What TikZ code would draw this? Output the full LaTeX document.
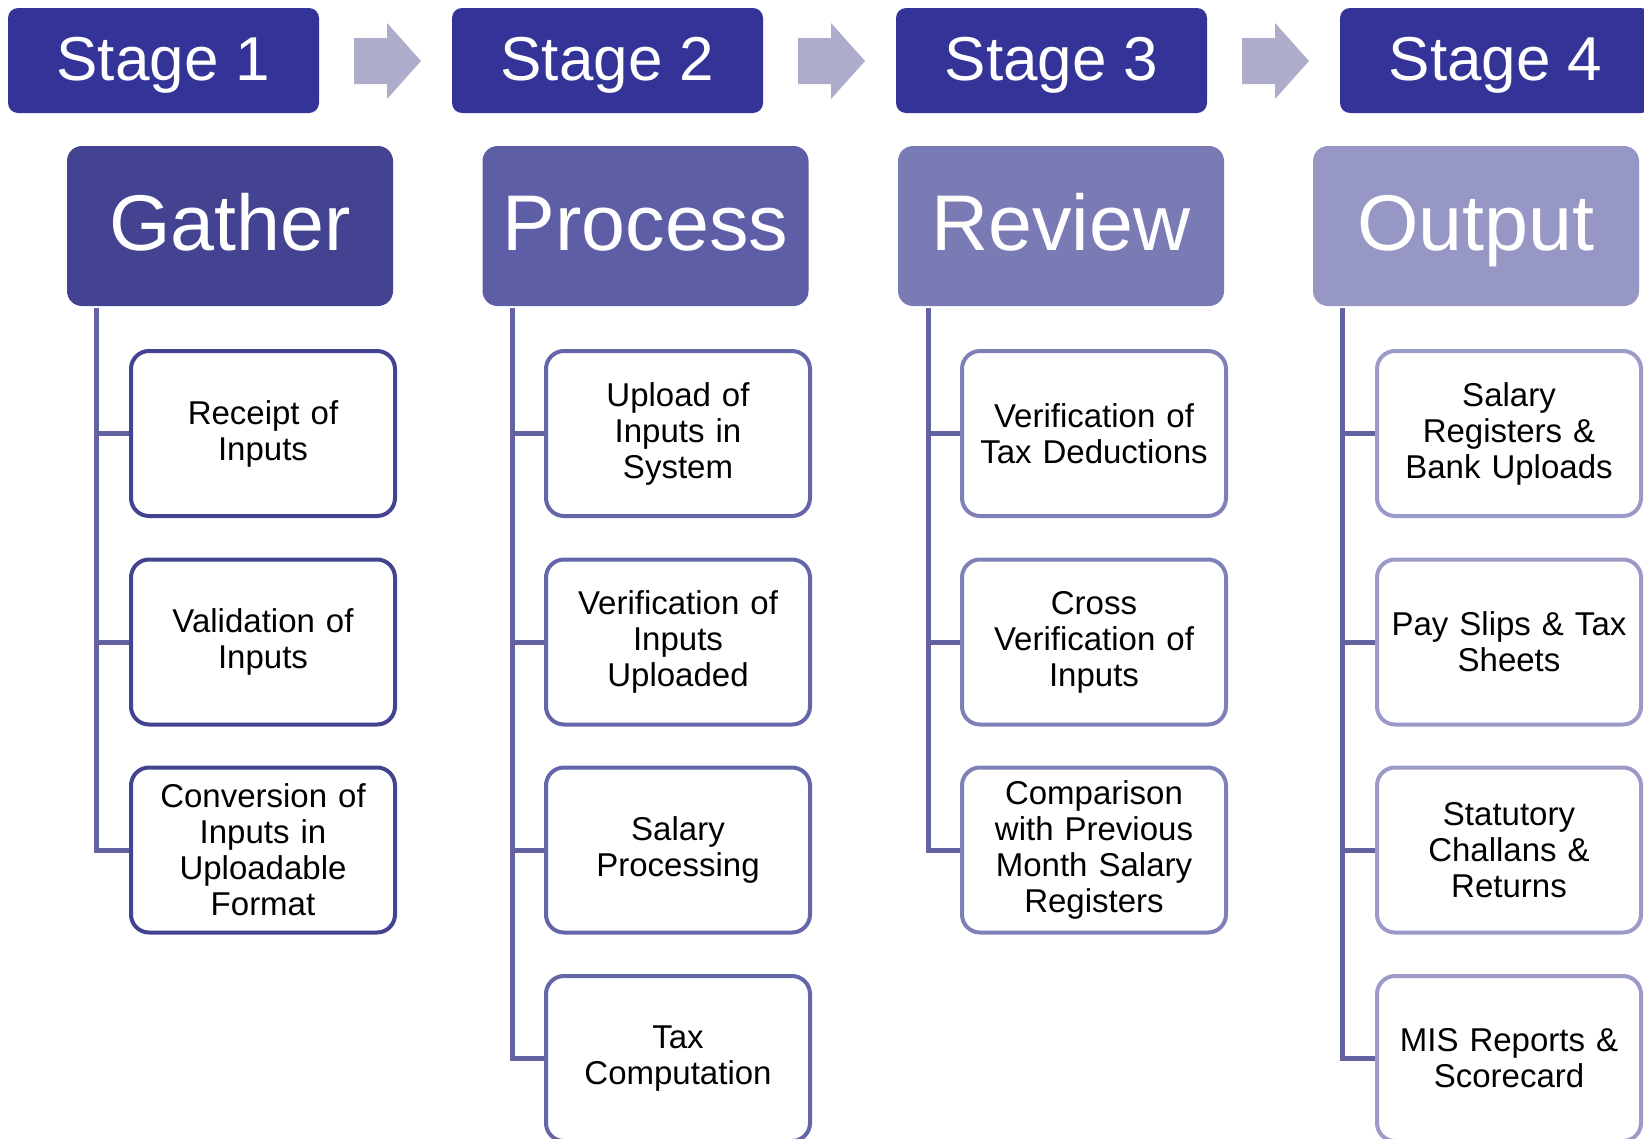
\documentclass[tikz,border=0pt]{standalone}
\usepackage{fontspec}
\setmainfont{Liberation Sans}
\usetikzlibrary{positioning}

\definecolor{hdrblue}{HTML}{343397}
\definecolor{gathercol}{HTML}{434392}
\definecolor{processcol}{HTML}{5E5EA6}
\definecolor{reviewcol}{HTML}{7A7AB5}
\definecolor{outputcol}{HTML}{9797C5}
\definecolor{arrowcol}{HTML}{ADADCB}
\definecolor{spinecol}{HTML}{6363A1}
\definecolor{pbordercol}{HTML}{6565A9}
\definecolor{rbordercol}{HTML}{8080B9}
\definecolor{obordercol}{HTML}{9B9BCA}

\tikzset{
  stagehdr/.style={fill=hdrblue, rounded corners=10pt, minimum width=311pt, minimum height=105pt,
    text=white, text height=44pt, text depth=5pt, font=\fontsize{62}{70}\selectfont},
  phasebox/.style={rounded corners=15pt, minimum width=326pt, minimum height=160pt,
    text=white, text height=57pt, text depth=8pt, font=\fontsize{79}{90}\selectfont},
  taskbox/.style={draw, line width=4pt, fill=white, rounded corners=18pt, minimum width=264pt,
    minimum height=165pt, text width=250pt, align=center, font=\fontsize{33}{36}\selectfont},
  spine/.style={draw=spinecol, line width=5pt},
}

\begin{document}
\begin{tikzpicture}[x=1pt, y=-1pt]
    \useasboundingbox (0,0) rectangle (1644,1138);
    \clip (0,0) rectangle (1644,1138);

    % stage headers
    \node[stagehdr] (s1) at (163.5,60.5) {Stage 1};
    \node[stagehdr] (s2) at (607.5,60.5) {Stage 2};
    \node[stagehdr] (s3) at (1051.5,60.5) {Stage 3};
    \node[stagehdr] (s4) at (1495.5,60.5) {Stage 4};
    \foreach \dx in {0,444,888}
        \fill[arrowcol, shift={(\dx,0)}] (354,38) -- (387,38) -- (387,23) -- (421,61)
            -- (387,99) -- (387,84) -- (354,84) -- cycle;

    % phases
    \node[phasebox, fill=gathercol] (gather) at (230,226) {Gather};
    \node[phasebox, fill=processcol] (process) at (645.5,226) {Process};
    \node[phasebox, fill=reviewcol] (review) at (1061,226) {Review};
    \node[phasebox, fill=outputcol] (output) at (1476,226) {Output};

    % Gather tasks
    \node[taskbox, draw=gathercol] (g1) at (263,433.5) {Receipt of\\Inputs};
    \node[taskbox, draw=gathercol] (g2) at (263,642) {Validation of\\Inputs};
    \node[taskbox, draw=gathercol] (g3) at (263,850) {Conversion of\\Inputs in\\Uploadable\\Format};

    % Process tasks
    \node[taskbox, draw=pbordercol] (p1) at (678,433.5) {Upload of\\Inputs in\\System};
    \node[taskbox, draw=pbordercol] (p2) at (678,642) {Verification of\\Inputs\\Uploaded};
    \node[taskbox, draw=pbordercol] (p3) at (678,850) {Salary\\Processing};
    \node[taskbox, draw=pbordercol] (p4) at (678,1058.5) {Tax\\Computation};

    % Review tasks
    \node[taskbox, draw=rbordercol] (r1) at (1094,433.5) {Verification of\\Tax Deductions};
    \node[taskbox, draw=rbordercol] (r2) at (1094,642) {Cross\\Verification of\\Inputs};
    \node[taskbox, draw=rbordercol] (r3) at (1094,850) {Comparison\\with Previous\\Month Salary\\Registers};

    % Output tasks
    \node[taskbox, draw=obordercol] (o1) at (1509,433.5) {Salary\\Registers \&\\Bank Uploads};
    \node[taskbox, draw=obordercol] (o2) at (1509,642) {Pay Slips \& Tax\\Sheets};
    \node[taskbox, draw=obordercol] (o3) at (1509,850) {Statutory\\Challans \&\\Returns};
    \node[taskbox, draw=obordercol] (o4) at (1509,1058.5) {MIS Reports \&\\Scorecard};

    % spines
    \coordinate (gs) at ([xshift=30pt, yshift=-2pt]gather.south west);
    \coordinate (ps) at ([xshift=30pt, yshift=-2pt]process.south west);
    \coordinate (rs) at ([xshift=31pt, yshift=-2pt]review.south west);
    \coordinate (os) at ([xshift=30pt, yshift=-2pt]output.south west);
    \draw[spine] (gs) |- (g3.west);
    \draw[spine] (ps) |- (p4.west);
    \draw[spine] (rs) |- (r3.west);
    \draw[spine] (os) |- (o4.west);
    \foreach \t in {g1,g2}
        \draw[spine] (gs |- \t.west) -- (\t.west);
    \foreach \t in {p1,p2,p3}
        \draw[spine] (ps |- \t.west) -- (\t.west);
    \foreach \t in {r1,r2}
        \draw[spine] (rs |- \t.west) -- (\t.west);
    \foreach \t in {o1,o2,o3}
        \draw[spine] (os |- \t.west) -- (\t.west);
\end{tikzpicture}
\end{document}
